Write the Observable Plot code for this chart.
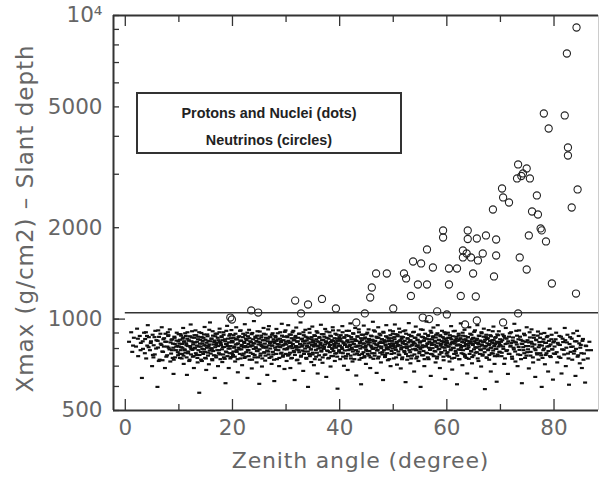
<!DOCTYPE html>
<html><head><meta charset="utf-8">
<script src="https://cdn.jsdelivr.net/npm/d3@7"></script>
<script src="https://cdn.jsdelivr.net/npm/@observablehq/plot@0.6"></script>
<style>
html,body{margin:0;padding:0;background:#fff;}
#wrap{position:relative;width:601px;height:479px;overflow:hidden;}
#legend{position:absolute;left:136px;top:92px;width:266px;height:62px;box-sizing:border-box;border:2px solid #333;font-family:"Liberation Sans",Arial,sans-serif;font-weight:bold;font-size:14.4px;color:#222;}
#legend div{position:absolute;left:0;width:100%;text-align:center;line-height:16px;}
</style></head><body>
<div id="wrap"><div id="legend"><div style="top:11px">Protons and Nuclei (dots)</div><div style="top:38px">Neutrinos (circles)</div></div></div>
<script>
const xDomain = [-2.2, 88.3];
const yDomain = [500, 10000];
const xMajorTicks = [0, 20, 40, 60, 80];
const xMinorTicks = [10, 30, 50, 70];
const yMajorTicks = [500, 1000, 2000, 5000, 10000];
const yTickLabels = ["500", "1000", "2000", "5000", "10⁴"];
const yMinorTicks = [600, 700, 800, 900, 3000, 4000, 6000, 7000, 8000, 9000];
const threshold = 1050;
const xTitle = "Zenith angle (degree)";
const yTitle = "Xmax (g/cm2) – Slant depth";

// Neutrinos (circles)
const neutrinoAngle = [19.6,19.9,23.5,24.8,31.7,32.8,34.1,36.7,39.3,43.1,44.7,45.7,46.0,46.8,48.8,50.0,52.0,52.4,53.3,53.7,55.2,54.6,56.3,56.3,57.4,55.5,56.7,58.2,60.0,59.3,59.3,60.4,61.9,60.4,62.6,63.9,63.9,65.6,67.3,69.2,63.0,63.7,63.0,64.5,65.8,66.7,69.2,73.6,64.9,68.8,74.9,65.4,65.6,63.4,70.5,73.3,79.6,84.1,68.6,70.3,70.5,71.6,73.3,74.9,74.2,73.1,75.5,73.9,76.8,84.4,83.3,75.9,77.0,77.5,77.7,75.3,78.5,78.1,82.0,79.0,82.6,82.6,82.4,84.2];
const neutrinoXmax = [1012,997,1068,1051,1151,1044,1117,1165,1084,975,1044,1178,1271,1413,1413,1084,1413,1361,1192,1548,1525,1300,1300,1696,1479,1012,1000,1060,1036,1958,1857,1468,1468,1300,1192,1958,1836,1843,1886,1829,1683,1645,1596,1596,1560,1645,1620,1596,1413,1382,1457,1187,990,960,975,1044,1310,1214,2296,2693,2516,2421,3231,3134,3018,2906,2906,2960,2554,2673,2331,2262,2211,1989,1960,1886,1802,4756,4685,4245,3675,3458,7497,9130];

// Protons and nuclei (dots): [angle, xmax] pairs, spread of each 10-degree band
const protons0to10 = [0.7,842,1.1,905,1.3,780,1.6,868,2.0,812,2.2,930,2.4,755,2.7,880,2.9,835,3.1,640,3.3,798,3.5,902,3.7,860,3.9,742,4.1,818,4.2,955,4.4,872,4.6,790,4.8,845,5.0,700,5.1,888,5.3,820,5.5,765,5.6,915,5.8,852,6.0,598,6.1,806,6.3,874,6.4,735,6.6,830,6.8,940,6.9,782,7.1,858,7.2,812,7.4,690,7.5,895,7.7,842,7.8,760,8.0,880,8.1,805,8.3,925,8.4,725,8.6,855,8.7,790,8.9,830,9.0,660,9.2,868,9.3,748,9.5,812,9.6,902,9.8,778,9.9,845];
const protons10to20 = [10.1,830,10.2,745,10.3,892,10.4,808,10.6,768,10.7,862,10.8,935,10.9,712,11.0,845,11.1,790,11.3,880,11.4,822,11.5,655,11.6,905,11.7,772,11.8,850,12.0,735,12.1,815,12.2,960,12.3,798,12.4,870,12.6,752,12.7,838,12.8,690,12.9,885,13.0,805,13.1,918,13.3,762,13.4,842,13.5,720,13.6,875,13.7,812,13.8,572,14.0,855,14.1,780,14.2,900,14.3,728,14.4,832,14.6,868,14.7,795,14.8,942,14.9,745,15.0,818,15.1,680,15.3,890,15.4,776,15.5,848,15.6,710,15.7,825,15.8,975,16.0,802,16.1,862,16.2,738,16.3,912,16.4,785,16.6,840,16.7,640,16.8,878,16.9,758,17.0,822,17.1,895,17.3,700,17.4,852,17.5,790,17.6,930,17.7,765,17.8,835,18.0,872,18.1,722,18.2,808,18.3,905,18.4,748,18.6,858,18.7,615,18.8,828,18.9,778,19.0,950,19.1,815,19.3,690,19.4,882,19.5,800,19.6,742,19.7,865,19.8,920,19.9,772];
const protons20to30 = [20.0,838,20.1,762,20.2,885,20.3,805,20.5,725,20.6,858,20.7,940,20.8,780,20.9,828,21.0,668,21.1,872,21.3,795,21.4,915,21.5,742,21.6,850,21.7,815,21.8,705,22.0,895,22.1,770,22.2,835,22.3,962,22.4,752,22.5,862,22.7,808,22.8,640,22.9,878,23.0,790,23.1,922,23.2,735,23.3,845,23.5,818,23.6,688,23.7,900,23.8,768,23.9,832,24.0,985,24.1,748,24.3,868,24.4,800,24.5,720,24.6,882,24.7,785,24.8,842,25.0,612,25.1,910,25.2,758,25.3,825,25.4,870,25.5,698,25.7,812,25.8,935,25.9,775,26.0,852,26.1,730,26.2,890,26.3,805,26.5,655,26.6,862,26.7,782,26.8,948,26.9,745,27.0,835,27.1,872,27.3,712,27.4,818,27.5,898,27.6,765,27.7,845,27.8,625,28.0,880,28.1,792,28.2,928,28.3,738,28.4,828,28.5,858,28.7,700,28.8,812,28.9,905,29.0,770,29.1,848,29.2,965,29.4,752,29.5,822,29.6,875,29.7,685,29.8,798,29.9,918];
const protons30to40 = [30.0,842,30.1,728,30.2,878,30.3,802,30.4,955,30.6,765,30.7,835,30.8,690,30.9,888,31.0,815,31.1,745,31.2,905,31.4,852,31.5,778,31.6,630,31.7,868,31.8,808,31.9,938,32.0,732,32.2,845,32.3,790,32.4,895,32.5,715,32.6,828,32.7,975,32.8,758,33.0,862,33.1,820,33.2,675,33.3,885,33.4,782,33.5,848,33.6,922,33.8,740,33.9,812,34.0,870,34.1,598,34.2,832,34.3,768,34.4,902,34.6,795,34.7,722,34.8,858,34.9,945,35.0,775,35.1,838,35.2,705,35.4,880,35.5,818,35.6,752,35.7,912,35.8,845,35.9,662,36.0,800,36.2,872,36.3,735,36.4,825,36.5,958,36.6,788,36.7,852,36.8,718,37.0,892,37.1,810,37.2,762,37.3,928,37.4,840,37.5,645,37.6,868,37.8,785,37.9,835,38.0,745,38.1,905,38.2,822,38.3,698,38.4,878,38.6,798,38.7,940,38.8,755,38.9,848,39.0,815,39.1,728,39.2,895,39.4,772,39.5,862,39.6,590,39.7,830,39.8,918,39.9,790];
const protons40to50 = [40.0,852,40.1,738,40.2,885,40.4,808,40.5,948,40.6,772,40.7,838,40.8,702,40.9,872,41.0,822,41.2,755,41.3,915,41.4,845,41.5,680,41.6,790,41.7,880,41.8,815,42.0,968,42.1,742,42.2,858,42.3,795,42.4,725,42.5,898,42.6,828,42.8,765,42.9,935,43.0,848,43.1,652,43.2,812,43.3,875,43.4,782,43.6,905,43.7,735,43.8,842,43.9,818,44.0,610,44.1,888,44.2,768,44.4,832,44.5,952,44.6,748,44.7,862,44.8,805,44.9,712,45.0,892,45.2,785,45.3,838,45.4,925,45.5,758,45.6,852,45.7,690,45.8,818,46.0,878,46.1,800,46.2,980,46.3,740,46.4,845,46.5,772,46.6,910,46.8,825,46.9,665,47.0,868,47.1,792,47.2,940,47.3,752,47.4,835,47.6,885,47.7,720,47.8,812,47.9,858,48.0,778,48.1,630,48.2,902,48.4,842,48.5,762,48.6,820,48.7,955,48.8,798,48.9,870,49.0,732,49.2,848,49.3,808,49.4,918,49.5,700,49.6,865,49.7,785,49.8,832,49.9,895];
const protons50to60 = [50.0,815,50.1,742,50.2,872,50.3,960,50.5,792,50.6,840,50.7,708,50.8,888,50.9,822,51.0,765,51.1,930,51.3,852,51.4,688,51.5,805,51.6,875,51.7,748,51.8,842,51.9,912,52.1,778,52.2,828,52.3,620,52.4,895,52.5,812,52.6,735,52.7,862,52.9,970,53.0,790,53.1,845,53.2,715,53.3,880,53.4,818,53.5,758,53.7,905,53.8,835,53.9,672,54.0,868,54.1,798,54.2,945,54.3,742,54.5,852,54.6,820,54.7,728,54.8,890,54.9,782,55.0,838,55.1,598,55.3,875,55.4,808,55.5,922,55.6,760,55.7,848,55.8,700,55.9,865,56.1,815,56.2,982,56.3,772,56.4,832,56.5,885,56.6,738,56.7,858,56.9,795,57.0,650,57.1,902,57.2,822,57.3,765,57.4,872,57.5,938,57.7,785,57.8,842,57.9,720,58.0,888,58.1,810,58.2,752,58.3,955,58.5,855,58.6,798,58.7,690,58.8,878,58.9,828,59.0,775,59.1,915,59.3,845,59.4,732,59.5,862,59.6,805,59.7,635,59.8,892,59.9,818];
const protons60to70 = [60.0,848,60.1,758,60.2,902,60.3,812,60.5,725,60.6,868,60.7,790,60.8,948,60.9,835,61.0,682,61.1,878,61.3,802,61.4,745,61.5,915,61.6,842,61.7,772,61.8,862,61.9,610,62.1,825,62.2,895,62.3,738,62.4,855,62.5,792,62.6,968,62.7,815,62.9,705,63.0,882,63.1,768,63.2,838,63.3,922,63.4,752,63.5,858,63.7,798,63.8,662,63.9,872,64.0,820,64.1,740,64.2,940,64.3,845,64.5,785,64.6,888,64.7,715,64.8,830,64.9,865,65.0,760,65.1,908,65.3,808,65.4,640,65.5,852,65.6,778,65.7,955,65.8,835,65.9,728,66.1,880,66.2,795,66.3,845,66.4,698,66.5,898,66.6,818,66.7,765,66.9,930,67.0,842,67.1,588,67.2,812,67.3,872,67.4,748,67.5,860,67.7,790,67.8,920,67.9,735,68.0,828,68.1,885,68.2,672,68.3,805,68.5,852,68.6,770,68.7,945,68.8,832,68.9,712,69.0,868,69.1,798,69.3,622,69.4,890,69.5,755,69.6,840,69.7,912,69.8,780,69.9,822];
const protons70to80 = [70.1,842,70.2,755,70.4,890,70.5,812,70.7,712,70.8,868,71.0,935,71.1,785,71.3,832,71.4,660,71.6,875,71.7,768,71.9,818,72.0,905,72.2,740,72.3,850,72.5,795,72.6,965,72.8,725,72.9,838,73.1,882,73.2,700,73.4,810,73.5,918,73.7,762,73.8,855,74.0,615,74.1,828,74.3,790,74.4,895,74.6,745,74.7,842,74.9,940,75.0,778,75.2,815,75.3,688,75.5,870,75.6,758,75.8,925,75.9,830,76.1,720,76.2,885,76.4,800,76.5,645,76.7,852,76.8,772,77.0,910,77.1,735,77.3,822,77.4,868,77.6,760,77.7,598,77.9,842,78.0,790,78.2,900,78.3,710,78.5,835,78.6,772,78.8,880,78.9,672,79.1,815,79.2,930,79.4,750,79.5,858,79.7,795,79.8,632];
const protons80to87 = [80.0,845,80.2,768,80.4,902,80.6,720,80.8,825,81.0,880,81.2,745,81.4,662,81.6,862,81.8,792,82.0,935,82.2,700,82.4,838,82.6,770,82.8,608,83.0,872,83.2,810,83.4,735,83.6,898,83.8,785,84.0,650,84.2,845,84.4,752,84.6,880,84.8,715,85.0,822,85.2,690,85.4,860,85.6,770,85.8,618,86.0,815,86.3,742,86.6,842,86.9,790];

// Protons and nuclei (dots): [angle, xmax] pairs, dense core of each band
const core0to10 = [1.45,818,2.35,862,2.85,790,3.25,845,3.65,772,4.05,880,4.35,808,4.75,835,5.15,762,5.45,872,5.75,800,6.05,848,6.25,728,6.55,895,6.75,822,7.05,780,7.25,865,7.45,842,7.65,752,7.85,812,8.05,885,8.25,795,8.45,838,8.55,770,8.75,858,8.95,805,9.05,735,9.15,875,9.25,828,9.45,790,9.55,850,9.75,815,9.85,760,9.95,892,8.85,745,7.95,905,6.95,732,6.15,918,5.25,748,3.85,905];
const core10to20 = [10.04,812,10.13,768,10.21,855,10.33,790,10.41,882,10.52,742,10.58,828,10.67,805,10.79,870,10.86,758,10.94,842,11.06,795,11.17,898,11.23,775,11.36,832,11.44,748,11.57,862,11.62,815,11.74,782,11.88,850,11.93,728,12.06,878,12.14,808,12.27,765,12.35,845,12.46,912,12.53,792,12.66,825,12.74,755,12.87,868,12.95,800,13.04,838,13.16,772,13.24,885,13.37,818,13.45,745,13.56,858,13.64,790,13.78,905,13.86,762,13.93,830,14.07,812,14.15,735,14.26,872,14.38,798,14.45,848,14.54,768,14.67,890,14.73,820,14.85,780,14.96,855,15.04,742,15.17,836,15.24,805,15.36,878,15.43,758,15.55,815,15.67,922,15.74,788,15.86,845,15.94,770,16.06,862,16.15,798,16.24,732,16.37,882,16.45,825,16.53,760,16.66,850,16.77,808,16.84,895,16.96,748,17.04,835,17.16,790,17.25,868,17.34,815,17.47,772,17.56,905,17.63,842,17.75,738,17.87,822,17.95,878,18.04,795,18.16,852,18.27,765,18.35,888,18.44,810,18.56,740,18.64,845,18.77,782,18.85,915,18.94,828,19.06,755,19.14,862,19.25,800,19.36,838,19.45,772,19.57,892,19.63,815,19.76,750,19.87,848];
const core20to30 = [20.04,845,20.16,782,20.23,868,20.35,812,20.44,752,20.56,895,20.63,825,20.75,790,20.84,858,20.96,738,21.05,832,21.14,805,21.26,878,21.37,768,21.45,848,21.54,918,21.66,795,21.74,822,21.87,760,21.94,872,22.06,808,22.17,842,22.25,745,22.36,885,22.47,815,22.56,778,22.64,852,22.76,902,22.85,790,22.97,828,23.04,755,23.16,865,23.27,812,23.36,775,23.44,840,23.57,892,23.66,735,23.75,818,23.84,858,23.96,798,24.06,832,24.14,762,24.26,875,24.35,808,24.46,848,24.55,785,24.67,912,24.76,748,24.85,825,24.94,862,25.06,795,25.17,838,25.24,770,25.37,882,25.45,815,25.56,742,25.64,852,25.77,805,25.86,895,25.95,778,26.04,830,26.16,758,26.25,868,26.34,812,26.47,788,26.55,845,26.66,925,26.74,765,26.86,820,26.97,875,27.05,800,27.14,842,27.26,752,27.35,888,27.46,818,27.54,780,27.67,858,27.75,735,27.84,835,27.96,805,28.06,872,28.15,768,28.24,848,28.36,812,28.45,898,28.57,790,28.66,825,28.74,745,28.87,862,28.94,808,29.05,840,29.16,775,29.24,882,29.36,818,29.45,760,29.54,852,29.67,795,29.76,908,29.84,830,29.95,768];
const core30to40 = [30.05,825,30.14,795,30.26,872,30.35,758,30.44,848,30.57,812,30.66,890,30.74,775,30.86,838,30.95,742,31.04,865,31.15,802,31.27,828,31.36,915,31.44,785,31.56,852,31.65,762,31.76,880,31.84,815,31.97,795,32.06,842,32.14,735,32.25,868,32.37,808,32.46,778,32.55,895,32.64,825,32.77,752,32.86,858,32.95,812,33.05,788,33.16,845,33.24,905,33.35,768,33.47,832,33.56,800,33.64,875,33.75,745,33.87,850,33.94,818,34.06,782,34.17,862,34.26,808,34.34,928,34.45,755,34.57,838,34.66,795,34.75,872,34.84,822,34.96,765,35.05,848,35.14,812,35.27,885,35.36,738,35.45,828,35.56,792,35.64,858,35.76,775,35.87,902,35.95,815,36.04,842,36.16,760,36.25,868,36.36,805,36.44,835,36.57,782,36.66,892,36.75,818,36.84,748,36.96,855,37.06,798,37.14,875,37.26,825,37.35,765,37.47,845,37.55,910,37.64,788,37.76,832,37.85,742,37.94,862,38.05,810,38.17,778,38.24,882,38.36,840,38.45,756,38.54,852,38.67,802,38.76,918,38.85,785,38.96,828,39.04,865,39.15,770,39.26,838,39.35,805,39.46,888,39.55,752,39.66,848,39.74,815,39.87,782,39.95,872];
const core40to50 = [40.06,818,40.15,862,40.24,775,40.36,845,40.47,798,40.55,905,40.64,752,40.76,832,40.85,868,40.94,788,41.06,825,41.14,742,41.25,885,41.37,810,41.46,852,41.54,768,41.66,838,41.75,915,41.86,795,41.95,822,42.04,758,42.16,872,42.25,805,42.34,842,42.46,782,42.57,895,42.65,828,42.74,738,42.87,858,42.96,812,43.05,790,43.15,848,43.26,770,43.35,878,43.44,818,43.56,925,43.64,762,43.76,835,43.85,800,43.97,865,44.06,745,44.14,852,44.27,808,44.36,888,44.45,778,44.54,830,44.66,755,44.75,870,44.86,815,44.94,792,45.05,845,45.16,902,45.24,768,45.35,825,45.47,860,45.56,785,45.64,838,45.76,748,45.85,882,45.96,810,46.05,772,46.14,855,46.26,798,46.37,918,46.46,832,46.54,758,46.65,848,46.77,805,46.86,875,46.95,788,47.04,822,47.16,742,47.25,868,47.36,812,47.44,895,47.56,775,47.65,842,47.76,802,47.84,858,47.97,765,48.06,835,48.14,908,48.26,790,48.35,852,48.46,750,48.55,825,48.64,878,48.76,808,48.85,772,48.94,845,49.05,795,49.17,862,49.26,738,49.34,828,49.46,885,49.55,815,49.64,768,49.76,848,49.86,800,49.95,912];
const core50to60 = [50.04,828,50.16,772,50.25,858,50.36,805,50.45,892,50.54,748,50.66,835,50.74,815,50.86,878,50.95,782,51.05,845,51.14,762,51.26,905,51.35,818,51.47,795,51.56,862,51.64,738,51.75,832,51.84,872,51.96,808,52.06,785,52.14,848,52.25,918,52.37,768,52.46,825,52.55,802,52.66,865,52.75,755,52.84,838,52.96,888,53.05,812,53.16,778,53.24,852,53.36,742,53.45,878,53.57,822,53.66,795,53.74,842,53.86,908,53.95,765,54.04,830,54.15,868,54.26,790,54.34,815,54.46,752,54.57,855,54.66,885,54.75,808,54.86,772,54.94,838,55.06,798,55.15,925,55.24,845,55.36,760,55.45,820,55.54,872,55.65,785,55.76,850,55.84,738,55.96,895,56.05,812,56.16,775,56.24,862,56.36,828,56.46,748,56.55,880,56.66,805,56.74,842,56.85,792,56.96,915,57.04,768,57.16,835,57.25,858,57.34,802,57.46,878,57.55,755,57.64,825,57.76,848,57.86,782,57.94,870,58.06,815,58.15,742,58.24,898,58.36,832,58.45,795,58.56,852,58.64,765,58.76,885,58.86,818,58.95,778,59.04,845,59.16,808,59.25,872,59.36,752,59.45,838,59.54,905,59.66,788,59.75,825,59.84,862,59.96,770];
const core60to70 = [60.05,835,60.14,778,60.26,868,60.35,812,60.44,752,60.56,885,60.65,825,60.76,795,60.84,858,60.95,742,61.06,842,61.15,805,61.24,912,61.36,768,61.45,830,61.56,852,61.64,785,61.76,875,61.85,818,61.94,758,62.05,848,62.16,795,62.24,882,62.35,738,62.47,822,62.55,865,62.66,805,62.74,772,62.86,840,62.95,902,63.04,790,63.15,855,63.26,815,63.35,762,63.46,878,63.54,828,63.66,745,63.75,848,63.84,798,63.96,872,64.06,808,64.15,832,64.24,768,64.36,895,64.45,842,64.56,782,64.65,858,64.74,750,64.86,822,64.94,868,65.06,795,65.14,845,65.26,918,65.35,775,65.46,835,65.55,805,65.64,862,65.76,742,65.86,828,65.95,882,66.04,812,66.16,768,66.25,850,66.36,790,66.45,905,66.54,825,66.66,758,66.75,842,66.85,875,66.96,800,67.05,778,67.14,855,67.26,815,67.35,888,67.46,745,67.55,832,67.66,865,67.74,795,67.86,822,67.94,762,68.06,848,68.15,805,68.24,878,68.36,772,68.44,838,68.56,912,68.65,788,68.76,852,68.84,815,68.95,755,69.06,828,69.14,872,69.26,798,69.35,842,69.46,765,69.54,885,69.66,812,69.75,835,69.86,780,69.94,858];
const core70to80 = [70.05,818,70.25,775,70.35,852,70.55,798,70.65,880,70.85,742,70.95,828,71.15,862,71.25,790,71.45,845,71.55,768,71.75,898,71.85,812,72.05,835,72.15,752,72.35,870,72.45,805,72.65,842,72.75,782,72.95,915,73.05,825,73.25,765,73.35,858,73.55,792,73.65,875,73.85,738,73.95,830,74.15,848,74.25,808,74.45,772,74.55,885,74.75,815,74.85,758,75.05,852,75.15,795,75.35,838,75.45,905,75.65,780,75.75,842,75.95,812,76.05,748,76.25,868,76.35,825,76.55,790,76.65,855,76.85,765,76.95,882,77.15,808,77.25,840,77.45,772,77.55,895,77.75,818,77.85,745,78.05,858,78.15,800,78.35,835,78.45,762,78.65,872,78.75,812,78.95,785,79.05,848,79.25,755,79.35,825,79.55,888,79.65,795,79.85,838,79.95,770];
const core80to87 = [80.1,812,80.3,858,80.5,778,80.7,835,80.9,752,81.1,822,81.3,875,81.5,795,81.7,840,81.9,765,82.1,852,82.3,805,82.5,888,82.7,742,82.9,828,83.1,780,83.3,862,83.5,812,83.7,770,83.9,845,84.1,798,84.3,915,84.5,760,84.7,832,84.9,805,85.1,772,85.3,848,85.5,735,85.9,818,86.2,790];

const toPoints = arr => d3.range(0, arr.length - 1, 2).map(i => ({angle: arr[i], xmax: arr[i + 1]}));
const protons = [protons0to10, protons10to20, protons20to30, protons30to40, protons40to50,
  protons50to60, protons60to70, protons70to80, protons80to87,
  core0to10, core10to20, core20to30, core30to40, core40to50, core50to60, core60to70, core70to80, core80to87].flatMap(toPoints);
const neutrinos = neutrinoAngle.map((angle, i) => ({angle, xmax: neutrinoXmax[i]}));

const dash = {draw(ctx) { ctx.rect(-2.0, -1.1, 4.0, 2.2); }};
const ink = "#333";
const textGray = "#666";
const tickOpts = {stroke: ink, strokeWidth: 1.3, tickFormat: () => ""};

const chart = Plot.plot({
  width: 601, height: 479,
  marginLeft: 113, marginRight: 3, marginTop: 15, marginBottom: 69,
  x: {domain: xDomain, label: null},
  y: {type: "log", domain: yDomain, label: null},
  style: {fontFamily: '"DejaVu Sans", sans-serif', background: "#fff", color: ink},
  marks: [
    Plot.dot(protons, {x: "angle", y: "xmax", symbol: dash, fill: "#111", stroke: "none"}),
    Plot.ruleY([threshold], {x1: 0, x2: xDomain[1], stroke: ink, strokeWidth: 1.5}),
    Plot.dot(neutrinos, {x: "angle", y: "xmax", r: 3.6, stroke: "#222", strokeWidth: 1.1, fill: "none"}),
    Plot.axisX(xMajorTicks, {anchor: "bottom", tickSize: -11, ...tickOpts}),
    Plot.axisX(xMinorTicks, {anchor: "bottom", tickSize: -6, ...tickOpts}),
    Plot.axisX(xMajorTicks, {anchor: "top", tickSize: -10, ...tickOpts}),
    Plot.axisX(xMinorTicks, {anchor: "top", tickSize: -6, ...tickOpts}),
    Plot.axisY(yMajorTicks, {anchor: "left", tickSize: -6, ...tickOpts}),
    Plot.axisY([1000], {anchor: "left", tickSize: -12, ...tickOpts}),
    Plot.axisY(yMinorTicks, {anchor: "left", tickSize: -6, ...tickOpts}),
    Plot.axisX(xMajorTicks, {anchor: "bottom", tickSize: 0, tickPadding: 9, fontSize: 21.5, fill: textGray, tickFormat: d => String(d)}),
    Plot.axisY(yMajorTicks, {anchor: "left", tickSize: 0, tickPadding: 11, fontSize: 21.5, fill: textGray,
      tickFormat: d => yTickLabels[yMajorTicks.indexOf(d)]}),
    Plot.text([xTitle], {frameAnchor: "bottom", dx: 4.5, dy: 50, fontSize: 22, fill: textGray, textAnchor: "middle", lineAnchor: "middle"}),
    Plot.text([yTitle], {frameAnchor: "left", dx: -88, dy: 5.5, rotate: -90, fontSize: 23, fill: textGray, textAnchor: "middle", lineAnchor: "middle"}),
    Plot.ruleX([xDomain[0]], {stroke: ink, strokeWidth: 2}),
    Plot.ruleY(yDomain, {stroke: ink, strokeWidth: 2}),
    Plot.ruleX([xDomain[1]], {stroke: "#ccc", strokeWidth: 1})
  ]
});
chart.querySelectorAll("text").forEach(t => {
  if (t.textContent === yTitle) t.style.letterSpacing = "1.0px";
  if (t.textContent === xTitle) t.style.letterSpacing = "0.8px";
});
document.getElementById("wrap").prepend(chart);
</script>
</body></html>
